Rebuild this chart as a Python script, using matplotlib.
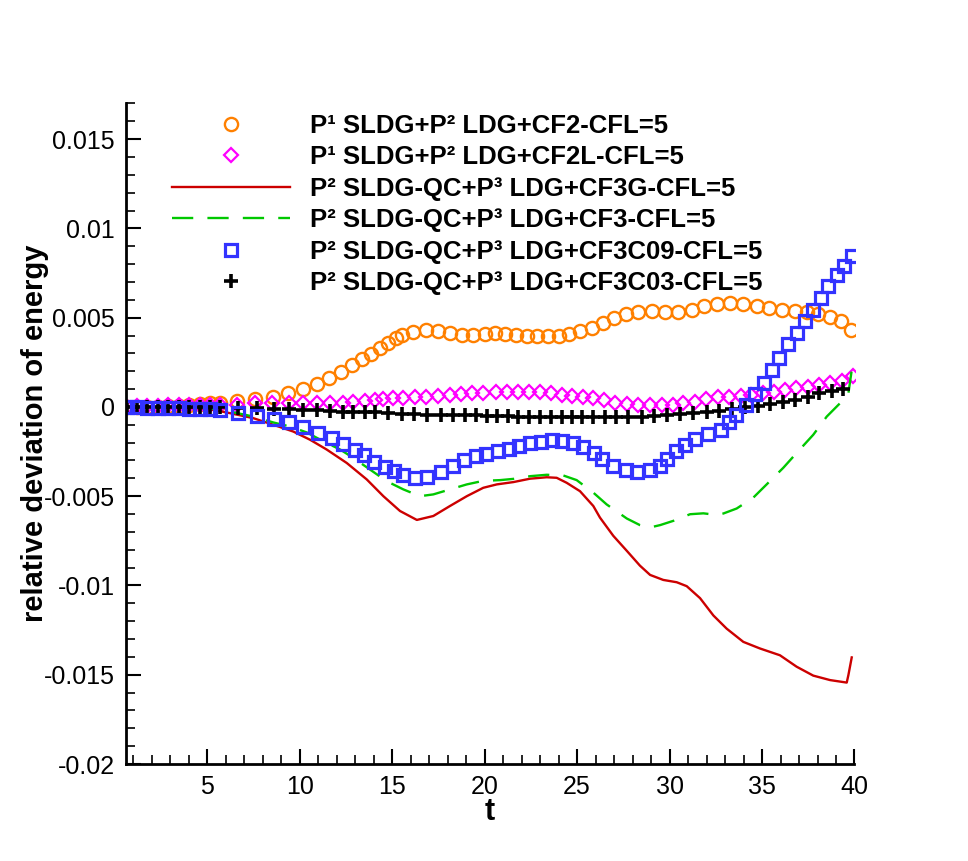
import numpy as np
import matplotlib
matplotlib.use('Agg')
import matplotlib.pyplot as plt
from matplotlib.ticker import MultipleLocator, FuncFormatter

# ── Data ──────────────────────────────────────────────────────────────────────
t_cf2 = [0.65, 1.2, 1.77, 2.34, 2.9, 3.47, 4.04, 4.6, 5.17, 5.7,
         6.64, 7.59, 8.55, 9.4, 10.17, 10.96, 11.61, 12.23, 12.82, 13.36,
         13.85, 14.35, 14.8, 15.22, 15.52, 16.12, 16.84, 17.5, 18.14, 18.77,
         19.4, 20.03, 20.57, 21.11, 21.7, 22.28, 22.85, 23.45, 24.03, 24.58,
         25.16, 25.79, 26.38, 27.0, 27.65, 28.31, 29.04, 29.76, 30.47, 31.2,
         31.86, 32.58, 33.27, 33.99, 34.71, 35.4, 36.06, 36.78, 37.41, 38.04,
         38.68, 39.25, 39.8]
e_cf2 = [0.0, 0.00002, 0.00002, 0.00002, 0.00006, 0.00006, 0.00011, 0.00015, 0.00021, 0.00024,
         0.00033, 0.00045, 0.00057, 0.00076, 0.00098, 0.00126, 0.0016, 0.00197, 0.00234, 0.00266,
         0.00299, 0.00332, 0.00358, 0.00388, 0.00401, 0.00419, 0.00429, 0.00423, 0.00414, 0.00405,
         0.00405, 0.00407, 0.00412, 0.00411, 0.00401, 0.00397, 0.00396, 0.00396, 0.00397, 0.0041,
         0.00423, 0.00444, 0.00472, 0.00499, 0.00518, 0.00531, 0.0054, 0.00531, 0.00531, 0.00544,
         0.00563, 0.00578, 0.00583, 0.00578, 0.00568, 0.00555, 0.00544, 0.00537, 0.00531, 0.00518,
         0.00503, 0.00484, 0.00433]

t_cf2l = [0.65, 1.2, 1.77, 2.34, 2.9, 3.47, 4.04, 4.6, 5.17, 5.7,
          6.64, 7.59, 8.5, 9.45, 10.2, 10.93, 11.65, 12.34, 12.91, 13.54,
          14.08, 14.53, 15.07, 15.61, 16.24, 16.84, 17.5, 18.14, 18.71, 19.3,
          19.94, 20.62, 21.23, 21.83, 22.42, 23.0, 23.58, 24.17, 24.72, 25.31,
          25.88, 26.46, 27.05, 27.69, 28.31, 28.95, 29.57, 30.17, 30.75, 31.38,
          31.97, 32.64, 33.23, 33.85, 34.39, 35.04, 35.65, 36.24, 36.84, 37.5,
          38.1, 38.68, 39.31, 39.94]
e_cf2l = [0.0, 0.00003, 0.00005, 0.00006, 0.00008, 0.00009, 0.0001, 0.0001, 0.00011, 0.00011,
          0.00011, 0.00021, 0.00024, 0.00021, 0.00021, 0.00021, 0.00021, 0.00024, 0.0003, 0.00033,
          0.00039, 0.00043, 0.00048, 0.00052, 0.00054, 0.00057, 0.00061, 0.00067, 0.00072, 0.00076,
          0.00078, 0.00083, 0.00085, 0.00085, 0.00085, 0.00085, 0.0008, 0.00067, 0.00061, 0.00057,
          0.00048, 0.00039, 0.00024, 0.00017, 0.00011, 0.00011, 0.00011, 0.00011, 0.00021, 0.0003,
          0.00043, 0.00054, 0.00057, 0.00061, 0.00067, 0.00076, 0.00085, 0.00095, 0.00104, 0.00113,
          0.00122, 0.00132, 0.00146, 0.00173]

t_cf3g = [0.6, 3.0, 5.0, 6.24, 7.5, 8.58, 9.66, 10.57, 11.47, 12.55,
          13.63, 14.53, 15.43, 16.34, 17.23, 18.13, 19.04, 19.93, 20.66, 21.56,
          22.46, 23.36, 23.9, 24.44, 25.16, 25.88, 26.24, 26.96, 27.69, 28.4,
          28.95, 29.66, 30.39, 30.93, 31.65, 32.37, 33.09, 33.99, 34.89, 35.97,
          36.87, 37.77, 38.68, 39.58, 39.67, 39.85]
e_cf3g = [0.0, 0.0, -0.0001, -0.00035, -0.00063, -0.001, -0.00138, -0.00184, -0.00239, -0.00314,
          -0.00406, -0.005, -0.00583, -0.00633, -0.00611, -0.00555, -0.005, -0.00453, -0.00434, -0.00421,
          -0.00402, -0.00394, -0.00397, -0.00425, -0.00472, -0.00555, -0.0062, -0.00722, -0.00806, -0.00889,
          -0.00941, -0.00969, -0.00982, -0.01004, -0.01071, -0.01168, -0.01242, -0.01316, -0.01353, -0.01391,
          -0.01455, -0.01505, -0.0153, -0.01544, -0.01502, -0.01403]

t_cf3 = [0.6, 3.0, 5.0, 6.24, 7.5, 8.58, 9.49, 10.39, 11.29, 12.2,
         12.91, 13.81, 14.71, 15.61, 16.51, 17.23, 18.13, 19.04, 19.93, 20.84,
         21.56, 22.46, 23.36, 24.26, 24.98, 25.88, 26.6, 27.69, 28.4, 28.95,
         29.49, 30.21, 31.11, 31.83, 32.55, 32.91, 33.63, 34.53, 35.25, 36.15,
         36.87, 37.77, 38.5, 39.22, 39.67, 39.85]
e_cf3 = [0.0, 0.0, -0.00005, -0.00026, -0.00054, -0.00087, -0.0011, -0.00143, -0.00193, -0.00239,
         -0.00286, -0.00351, -0.00416, -0.00462, -0.005, -0.0049, -0.00462, -0.00434, -0.00414, -0.0041,
         -0.00403, -0.00388, -0.0038, -0.00384, -0.0041, -0.0048, -0.00546, -0.00625, -0.00662, -0.00675,
         -0.00662, -0.00638, -0.00601, -0.00596, -0.00605, -0.00597, -0.00569, -0.00508, -0.00434, -0.00341,
         -0.00258, -0.00156, -0.00054, 0.00021, 0.00076, 0.00206]

t_c09 = [0.65, 1.2, 1.77, 2.34, 2.9, 3.47, 4.04, 4.6, 5.17, 5.7,
         6.69, 7.68, 8.62, 9.45, 10.2, 11.02, 11.74, 12.37, 12.97, 13.5,
         14.04, 14.62, 15.1, 15.61, 16.24, 16.91, 17.63, 18.28, 18.89, 19.54,
         20.08, 20.75, 21.3, 21.88, 22.46, 23.04, 23.64, 24.17, 24.77, 25.34,
         25.92, 26.33, 26.96, 27.63, 28.26, 28.95, 29.49, 29.88, 30.35, 30.84,
         31.4, 32.1, 32.76, 33.2, 33.6, 34.14, 34.63, 35.1, 35.53, 35.94,
         36.42, 36.87, 37.32, 37.74, 38.17, 38.58, 39.04, 39.43, 39.85]
e_c09 = [0.0, -0.00003, -0.00004, -0.00005, -0.00006, -0.00007, -0.00009, -0.00011, -0.00014, -0.00017,
         -0.00035, -0.0005, -0.00069, -0.00082, -0.0011, -0.00147, -0.00174, -0.00206, -0.0024, -0.00271,
         -0.00308, -0.00336, -0.0036, -0.00383, -0.00397, -0.00394, -0.00366, -0.00329, -0.00295, -0.00273,
         -0.00263, -0.00249, -0.00236, -0.00221, -0.00202, -0.00194, -0.00184, -0.00189, -0.00202, -0.00225,
         -0.00258, -0.00291, -0.00329, -0.00355, -0.00366, -0.00356, -0.00329, -0.00291, -0.00249, -0.00212,
         -0.0018, -0.0015, -0.00128, -0.00087, -0.00045, 0.00011, 0.00072, 0.00135, 0.00209, 0.00276,
         0.0035, 0.00413, 0.0048, 0.00544, 0.00611, 0.00679, 0.0074, 0.00791, 0.00846]

t_c03 = [0.65, 1.2, 1.77, 2.34, 2.9, 3.47, 4.04, 4.6, 5.17, 5.7,
         6.69, 7.68, 8.62, 9.45, 10.2, 10.96, 11.65, 12.34, 12.91, 13.54,
         14.08, 14.8, 15.52, 16.19, 16.88, 17.63, 18.31, 18.95, 19.54, 20.12,
         20.66, 21.29, 21.83, 22.42, 23.0, 23.58, 24.17, 24.72, 25.26, 25.88,
         26.51, 27.11, 27.77, 28.5, 29.16, 29.88, 30.57, 31.28, 32.0, 32.7,
         33.36, 34.08, 34.8, 35.43, 36.15, 36.78, 37.5, 38.1, 38.77, 39.4]
e_c03 = [0.0, 0.0, 0.0, 0.0, 0.0, 0.0, 0.0, 0.0, 0.0, 0.0,
         -0.00007, -0.00007, -0.00011, -0.00013, -0.00017, -0.00017, -0.00021, -0.00026, -0.0003, -0.0003,
         -0.0003, -0.00035, -0.00039, -0.00039, -0.00045, -0.00045, -0.00048, -0.00048, -0.00048, -0.0005,
         -0.0005, -0.0005, -0.00054, -0.00054, -0.00054, -0.00054, -0.00054, -0.00054, -0.00058, -0.00058,
         -0.00058, -0.00058, -0.00054, -0.00054, -0.0005, -0.00045, -0.00039, -0.00035, -0.0003, -0.00021,
         -0.00013, -0.00002, 0.00006, 0.00017, 0.0003, 0.00039, 0.00057, 0.00076, 0.00091, 0.00098]

labels = ['P¹ SLDG+P² LDG+CF2-CFL=5',
          'P¹ SLDG+P² LDG+CF2L-CFL=5',
          'P² SLDG-QC+P³ LDG+CF3G-CFL=5',
          'P² SLDG-QC+P³ LDG+CF3-CFL=5',
          'P² SLDG-QC+P³ LDG+CF3C09-CFL=5',
          'P² SLDG-QC+P³ LDG+CF3C03-CFL=5']

# ── Style ─────────────────────────────────────────────────────────────────────
plt.rcParams['font.family'] = ['Liberation Sans', 'DejaVu Sans']
plt.rcParams['axes.unicode_minus'] = False

W, H = 968, 861
fig = plt.figure(figsize=(W / 100, H / 100), dpi=100)
ax = fig.add_axes([125.7 / W, 1 - 764 / H, (854.5 - 125.7) / W, (764 - 103.4) / H])

h1, = ax.plot(t_cf2, e_cf2, 'o', ms=9.5, mfc='none', mec='#ff8000', mew=1.7, ls='none')
h2, = ax.plot(t_cf2l, e_cf2l, 'D', ms=7, mfc='none', mec='#ff00ff', mew=1.6, ls='none')
h3, = ax.plot(t_cf3g, e_cf3g, '-', color='#cc0000', lw=1.7)
h4, = ax.plot(t_cf3, e_cf3, '--', color='#00c800', lw=1.7, dashes=(9, 6))
h6, = ax.plot(t_c03, e_c03, '+', ms=10, mec='black', mew=2.6, ls='none')
h5, = ax.plot(t_c09, e_c09, 's', ms=8, mfc='none', mec='#3333ff', mew=2.3, ls='none')

ax.set_xlim(0.6, 40)
ax.set_ylim(-0.02, 0.017)
ax.xaxis.set_major_locator(MultipleLocator(5))
ax.xaxis.set_minor_locator(MultipleLocator(1))
ax.yaxis.set_minor_locator(MultipleLocator(0.001))
ax.set_yticks(np.arange(-0.02, 0.0151, 0.005))
ax.yaxis.set_major_formatter(FuncFormatter(lambda v, p: f'{v:g}' if abs(v) > 1e-12 else '0'))

for s in ['top', 'right']:
    ax.spines[s].set_visible(False)
for s in ['left', 'bottom']:
    ax.spines[s].set_linewidth(2.0)
ax.tick_params(which='major', direction='in', length=11, width=1.5, labelsize=18, pad=8)
ax.tick_params(which='minor', direction='in', length=6.5, width=1.2)

ax.set_xlabel('t', fontsize=22, fontweight='bold')
ax.xaxis.set_label_coords(0.5, (764 - 812) / (764 - 103.4), transform=ax.transAxes)
ax.xaxis.label.set_va('center')
ax.set_ylabel('relative deviation of energy', fontsize=21, fontweight='bold')
ax.yaxis.set_label_coords((35 - 125.7) / (854.5 - 125.7), 0.5, transform=ax.transAxes)
ax.yaxis.label.set_va('center')

leg = fig.legend([h1, h2, h3, h4, h5, h6], labels, loc='upper left',
                 bbox_to_anchor=(172 / W, 1 - 114 / H), frameon=False,
                 prop={'weight': 'bold', 'size': 18.5}, handlelength=4.6,
                 handletextpad=0.78, labelspacing=0.29, borderpad=0, borderaxespad=0,
                 numpoints=1)

fig.savefig('out.png', dpi=100)
